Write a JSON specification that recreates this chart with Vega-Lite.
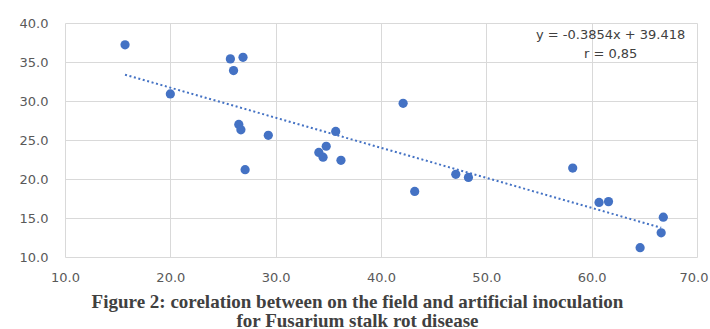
{
  "$schema": "https://vega.github.io/schema/vega-lite/v6.json",
  "width": 632,
  "height": 234,
  "autosize": "none",
  "padding": {"left": 65, "top": 23, "right": 13, "bottom": 72},
  "background": "white",
  "config": {
    "view": {"stroke": null},
    "axis": {
      "labelFont": "DejaVu Sans",
      "labelFontSize": 13,
      "labelColor": "#595959",
      "gridColor": "#d9d9d9",
      "gridWidth": 1,
      "ticks": false,
      "domain": false,
      "labelOverlap": false,
      "labelFlush": false
    }
  },
  "datasets": {
    "points": [
      {"field": 15.7, "artificial": 37.2},
      {"field": 20.0, "artificial": 30.9},
      {"field": 25.7, "artificial": 35.4},
      {"field": 26.9, "artificial": 35.6},
      {"field": 26.0, "artificial": 33.9},
      {"field": 26.5, "artificial": 27.0},
      {"field": 26.7, "artificial": 26.3},
      {"field": 29.3, "artificial": 25.6},
      {"field": 35.7, "artificial": 26.1},
      {"field": 34.8, "artificial": 24.2},
      {"field": 34.1, "artificial": 23.4},
      {"field": 34.5, "artificial": 22.8},
      {"field": 36.2, "artificial": 22.4},
      {"field": 27.1, "artificial": 21.2},
      {"field": 42.1, "artificial": 29.7},
      {"field": 43.2, "artificial": 18.4},
      {"field": 47.1, "artificial": 20.6},
      {"field": 48.3, "artificial": 20.2},
      {"field": 58.2, "artificial": 21.4},
      {"field": 60.7, "artificial": 17.0},
      {"field": 61.6, "artificial": 17.1},
      {"field": 66.8, "artificial": 15.1},
      {"field": 66.6, "artificial": 13.1},
      {"field": 64.6, "artificial": 11.2}
    ],
    "trend": [
      {"field": 15.7, "artificial": 33.37},
      {"field": 66.6, "artificial": 13.75}
    ],
    "labels": [
      {"field": 61.8, "artificial": 38.45, "text": "y = -0.3854x + 39.418"},
      {"field": 61.8, "artificial": 36.0, "text": "r = 0,85"}
    ]
  },
  "encoding": {
    "x": {
      "field": "field", "type": "quantitative",
      "scale": {"domain": [10, 70], "nice": false},
      "axis": {
        "values": [10, 20, 30, 40, 50, 60, 70],
        "format": ".1f",
        "labelPadding": 14,
        "labelAlign": {"condition": {"test": "datum.value === 70", "value": "right"}, "value": "center"},
        "labelOffset": {"condition": {"test": "datum.value === 70", "value": 11}, "value": 0},
        "title": ["Figure 2: corelation between on the field and artificial inoculation", "for Fusarium stalk rot disease"],
        "titleFont": "Liberation Serif",
        "titleFontWeight": "bold",
        "titleFontSize": 19,
        "titleColor": "#404040",
        "titleLineHeight": 19,
        "titleX": 292,
        "titleY": 35,
        "titleBaseline": "top",
        "titleAnchor": null
      }
    },
    "y": {
      "field": "artificial", "type": "quantitative",
      "scale": {"domain": [10, 40], "nice": false, "zero": false},
      "axis": {"values": [10, 15, 20, 25, 30, 35, 40], "format": ".1f", "labelPadding": 17, "title": null}
    }
  },
  "layer": [
    {
      "data": {"name": "trend"},
      "mark": {"type": "line", "color": "#4472C4", "strokeWidth": 2, "strokeDash": [2, 2.6]}
    },
    {
      "data": {"name": "points"},
      "mark": {"type": "point", "filled": true, "opacity": 1, "size": 85, "color": "#4472C4"}
    },
    {
      "data": {"name": "labels"},
      "mark": {"type": "text", "font": "DejaVu Sans", "fontSize": 13, "color": "#404040", "align": "center", "baseline": "middle"},
      "encoding": {
        "text": {"field": "text"}
      }
    }
  ]
}
